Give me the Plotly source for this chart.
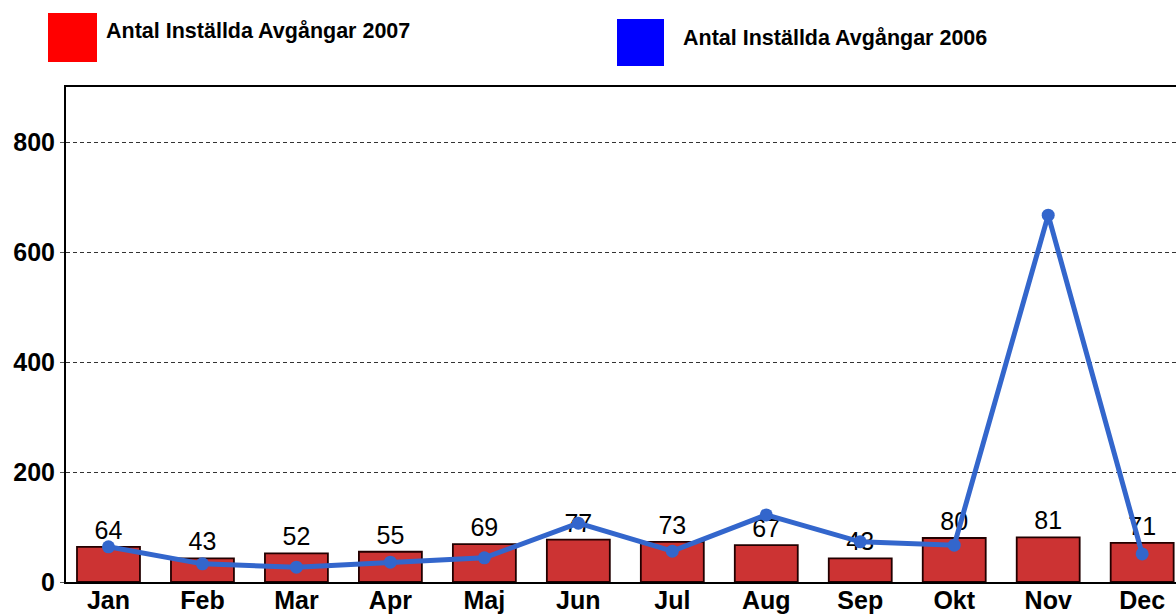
import plotly.graph_objects as go

months = ["Jan", "Feb", "Mar", "Apr", "Maj", "Jun", "Jul", "Aug", "Sep", "Okt", "Nov", "Dec"]
cancel_2007 = [64, 43, 52, 55, 69, 77, 73, 67, 43, 80, 81, 71]
cancel_2006 = [64, 33, 27, 36, 44, 107, 56, 122, 73, 67, 667, 51]
name_2007 = "Antal Inställda Avgångar 2007"
name_2006 = "Antal Inställda Avgångar 2006"
y_ticks = [0, 200, 400, 600, 800]

W, H = 1176, 614
L, R, T, B = 66, 0, 87, 32
PW, PH = W - L - R, H - T - B


def px(x):
    return (x - L) / PW


def py(y):
    return (H - B - y) / PH


fig = go.Figure()
fig.add_trace(go.Bar(
    x=months, y=cancel_2007, name=name_2007,
    marker=dict(color="#CC3333", line=dict(color="#220000", width=1.8)),
    text=[str(v) for v in cancel_2007], textposition="outside",
    textfont=dict(family="Liberation Sans, Arial", size=25, color="#000000"),
    cliponaxis=False,
))
fig.add_trace(go.Scatter(
    x=months, y=cancel_2006, name=name_2006, mode="lines+markers",
    line=dict(color="#3366CC", width=5),
    marker=dict(color="#3366CC", size=13),
    cliponaxis=False,
))

shapes = [
    dict(type="rect", xref="paper", yref="paper", x0=px(48), x1=px(97), y0=py(62), y1=py(13),
         fillcolor="#FF0000", line=dict(width=0)),
    dict(type="rect", xref="paper", yref="paper", x0=px(617), x1=px(664), y0=py(66), y1=py(19),
         fillcolor="#0000FF", line=dict(width=0)),
]
annotations = [
    dict(xref="paper", yref="paper", x=px(104), y=py(31), xanchor="left", yanchor="middle",
         text="<b>" + name_2007 + "</b>", showarrow=False,
         font=dict(family="Liberation Sans, Arial", size=21.5, color="#000000")),
    dict(xref="paper", yref="paper", x=px(681), y=py(38), xanchor="left", yanchor="middle",
         text="<b>" + name_2006 + "</b>", showarrow=False,
         font=dict(family="Liberation Sans, Arial", size=21.5, color="#000000")),
]

fig.update_layout(
    width=W, height=H,
    margin=dict(l=L, r=R, t=T, b=B, pad=0, autoexpand=False),
    paper_bgcolor="white", plot_bgcolor="white",
    showlegend=False, bargap=0.33,
    shapes=shapes, annotations=annotations,
    font=dict(family="Liberation Sans, Arial", color="#000000"),
)
fig.update_xaxes(
    type="category", range=[-0.452, 11.36], automargin=False,
    showline=True, linecolor="#000000", linewidth=2, mirror=True,
    showgrid=False, ticks="", ticklabelstandoff=-5,
    tickfont=dict(family="Liberation Sans, Arial", size=25, color="#000000", weight="bold"),
)
fig.update_yaxes(
    range=[0, 900], tickvals=y_ticks, ticktext=[str(v) for v in y_ticks], automargin=False,
    showline=True, linecolor="#000000", linewidth=2,
    showgrid=True, gridcolor="#333333", gridwidth=1, griddash="4px,3px",
    zeroline=False,
    ticks="outside", ticklen=4, tickcolor="#555555", tickwidth=1,
    tickfont=dict(family="Liberation Sans, Arial", size=25, color="#000000", weight="bold"),
)

fig.write_html(
    "out.html",
    config={"displayModeBar": False},
    post_script="document.body.style.margin='0';document.body.style.overflow='hidden';",
)
